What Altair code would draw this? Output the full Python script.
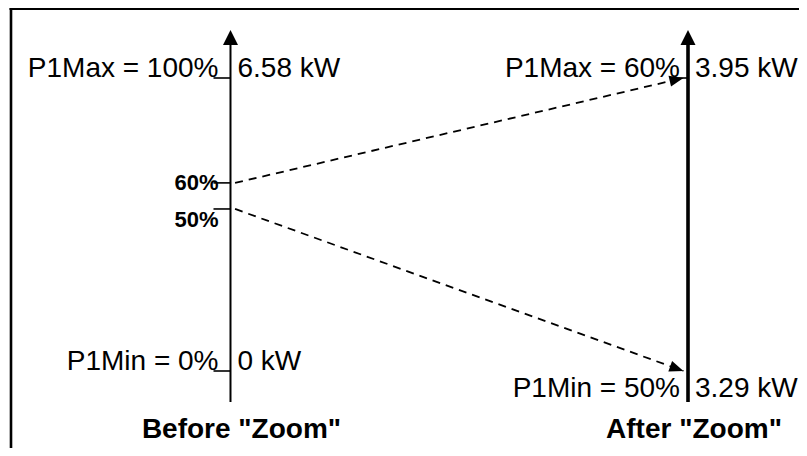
import math
import altair as alt
import pandas as pd

# ---------------- data ----------------
# horizontal position of each scale: 0 = before zoom, 1 = after zoom
axis_pos = [0, 1]
axis_titles = ['Before "Zoom"', 'After "Zoom"']
axis_stroke = [2, 3.6]
axis_bottom = -10.6
axis_top = 116.4

# "before" scale: vertical level of each tick (drawn position, % of before-scale)
before_levels = [100, 64.2, 55.3, 0]
before_pct_labels = ["P1Max = 100%", "60%", "50%", "P1Min = 0%"]
before_kw_labels = ["6.58 kW", "", "", "0 kW"]

# "after" scale
after_levels = [100, 0]
after_pct_labels = ["P1Max = 60%", "P1Min = 50%"]
after_kw_labels = ["3.95 kW", "3.29 kW"]

# mapping of the zoom window (before level -> after level)
map_from = [64.2, 55.3]
map_to = [100, 0]

# ---------------- layout ----------------
W, H = 791, 440
X_DOM = [-0.4863, 1.2426]
Y_DOM = [-26.28, 123.89]
FONT = "Liberation Sans"

xs = alt.Scale(domain=X_DOM, nice=False, zero=False)
ys = alt.Scale(domain=Y_DOM, nice=False, zero=False)


def X(f="x"):
    return alt.X(f"{f}:Q", scale=xs, axis=None)


def Y(f="y"):
    return alt.Y(f"{f}:Q", scale=ys, axis=None)


axes_df = pd.DataFrame({"x": axis_pos, "y": [axis_bottom] * 2, "y2": [axis_top - 4.5] * 2,
                        "w": axis_stroke, "top": [axis_top] * 2, "title": axis_titles,
                        "ty": [0, 0]})

axis_lines = alt.Chart(axes_df).mark_rule(color="black").encode(
    x=X(), y=Y(), y2="y2:Q", strokeWidth=alt.StrokeWidth("w:Q", scale=None))

up_arrow = "M0,0 L1,2 L-1,2 Z"
axis_heads = alt.Chart(axes_df).mark_point(
    shape=up_arrow, size=225, filled=True, color="black", opacity=1, strokeWidth=0
).encode(x=X(), y=Y("top"))

before_df = pd.DataFrame({"x": [0] * 4, "y": before_levels,
                          "pct": before_pct_labels, "kw": before_kw_labels})
after_df = pd.DataFrame({"x": [1] * 2, "y": after_levels,
                         "pct": after_pct_labels, "kw": after_kw_labels})

ticks_before = alt.Chart(before_df).mark_rule(color="black", strokeWidth=1.6, x2Offset=-17).encode(
    x=X(), x2="x:Q", y=Y())
ticks_after = alt.Chart(after_df.iloc[[0]]).mark_rule(color="black", strokeWidth=1.6, x2Offset=-16).encode(
    x=X(), x2="x:Q", y=Y())


def text_layer(df, field, align, dx, dy, size, weight="normal", yfield="y"):
    return alt.Chart(df).mark_text(
        align=align, baseline="alphabetic", dx=dx, dy=dy, fontSize=size,
        font=FONT, fontWeight=weight, color="black"
    ).encode(x=X(), y=Y(yfield), text=f"{field}:N")


labels = [
    text_layer(before_df.iloc[[0]], "pct", "right", -12, -1, 28),
    text_layer(before_df.iloc[[1]], "pct", "right", -12, 7, 22, "bold"),
    text_layer(before_df.iloc[[2]], "pct", "right", -12, 18, 22, "bold"),
    text_layer(before_df.iloc[[3]], "pct", "right", -12, -1, 28),
    text_layer(before_df.iloc[[0, 3]], "kw", "left", 7, -1, 28),
    text_layer(after_df.iloc[[0]], "pct", "right", -8, -1, 28),
    text_layer(after_df.iloc[[1]], "pct", "right", -8, 26, 28),
    text_layer(after_df.iloc[[0]], "kw", "left", 7, -1, 28),
    text_layer(after_df.iloc[[1]], "kw", "left", 7, 26, 28),
    text_layer(axes_df.iloc[[0]], "title", "center", 11, 67, 28, "bold", "ty"),
    text_layer(axes_df.iloc[[1]], "title", "center", 6, 67, 28, "bold", "ty"),
]

# zoom mapping (dashed arrows)
kx = W / (X_DOM[1] - X_DOM[0])
ky = H / (Y_DOM[1] - Y_DOM[0])
angles = [math.degrees(math.atan2(-(t - f) * ky, 1 * kx)) % 360 for f, t in zip(map_from, map_to)]
map_df = pd.DataFrame({"x": [0.01, 0.01], "y": map_from, "x2": [0.99, 0.99], "y2": map_to, "ang": angles})

dashes = alt.Chart(map_df).mark_rule(color="black", strokeWidth=1.8, strokeDash=[8, 6]).encode(
    x=X(), y=Y(), x2="x2:Q", y2="y2:Q")
right_arrow = "M0,0 L-2,-0.8 L-2,0.8 Z"
dash_heads = alt.Chart(map_df).mark_point(
    shape=right_arrow, size=196, filled=True, color="black", opacity=1, strokeWidth=0
).encode(x=X("x2"), y=Y("y2"), angle=alt.Angle("ang:Q", scale=None))

# frame (top and left border of the figure)
frame_top = alt.Chart(axes_df.iloc[[0]]).mark_rule(color="black", strokeWidth=2.6).encode(
    x=alt.value(1.5), x2=alt.value(805), y=alt.value(0.6))
frame_left = alt.Chart(axes_df.iloc[[0]]).mark_rule(color="black", strokeWidth=2.6).encode(
    x=alt.value(3), y=alt.value(0), y2=alt.value(447))

chart = alt.layer(
    frame_top, frame_left, dashes, dash_heads, axis_lines, axis_heads,
    ticks_before, ticks_after, *labels
).properties(
    width=W, height=H, padding=0, autosize=alt.AutoSizeParams(type="none"), background="white"
).configure_view(stroke=None)

chart.save("out.html", embed_options={"renderer": "svg", "actions": False})
